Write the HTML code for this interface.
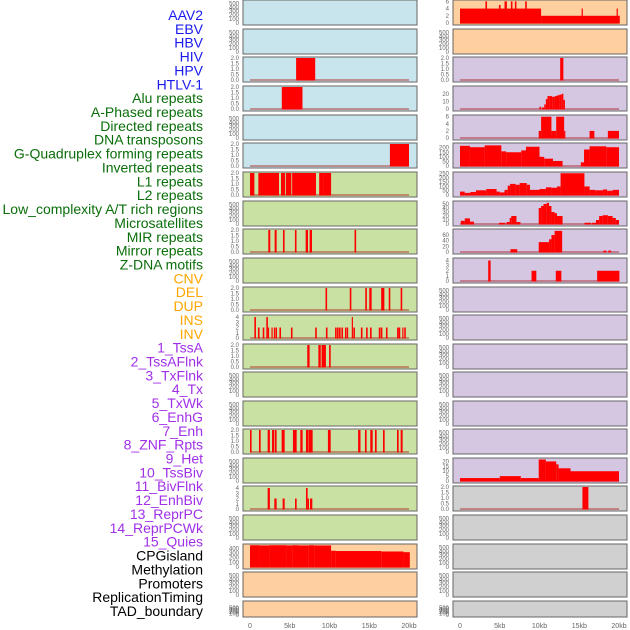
<!DOCTYPE html>
<html><head><meta charset="utf-8"><style>
html,body{margin:0;padding:0;background:#fff;}
svg{display:block;font-family:"Liberation Sans",sans-serif;}
</style></head><body>
<svg id="chart" width="630" height="630" viewBox="0 0 630 630" xmlns="http://www.w3.org/2000/svg"></svg>
<script>
// ---------- data ----------
const trackLabels = ["AAV2","EBV","HBV","HIV","HPV","HTLV-1","Alu repeats","A-Phased repeats","Directed repeats","DNA transposons","G-Quadruplex forming repeats","Inverted repeats","L1 repeats","L2 repeats","Low_complexity A/T rich regions","Microsatellites","MIR repeats","Mirror repeats","Z-DNA motifs","CNV","DEL","DUP","INS","INV","1_TssA","2_TssAFlnk","3_TxFlnk","4_Tx","5_TxWk","6_EnhG","7_Enh","8_ZNF_Rpts","9_Het","10_TssBiv","11_BivFlnk","12_EnhBiv","13_ReprPC","14_ReprPCWk","15_Quies","CPGisland","Methylation","Promoters","ReplicationTiming","TAD_boundary"];
const labelGroups = [0,0,0,0,0,0,1,1,1,1,1,1,1,1,1,1,1,1,1,2,2,2,2,2,3,3,3,3,3,3,3,3,3,3,3,3,3,3,3,4,4,4,4,4];
const xTickValues = [0,5,10,15,20];
const xTickLabels = ["0","5kb","10kb","15kb","20kb"];
const ticks500 = [0,100,200,300,400,500];
const ticks2 = [0,0.5,1,1.5,2];
const ticks2s = ["0.0","0.5","1.0","1.5","2.0"];

// segments: [startKb, endKb, value]
const r1Right = [[0,10.2,4],[10.2,20.1,2],[3.2,3.4,6],[4.9,5.1,5],[5.6,5.9,6],[6.4,6.6,6],[6.9,7.1,6],[8.2,8.4,6],[15.3,15.45,4],[19.7,19.85,4]];
const r3Left = [[5.8,8.2,2]];
const r3Right = [[12.6,13.0,2]];
const r4Left = [[4.0,6.6,2]];
const r4Right = [[10.0,10.2,3],[10.3,10.6,2],[10.6,10.8,6],[10.8,11.0,13],[11.0,11.3,17],[11.3,11.6,17],[11.6,11.9,16],[11.9,12.2,17],[12.2,12.5,18],[12.5,12.8,19],[12.8,13.0,20],[13.0,13.2,12]];
const r5Right = [[9.9,10.2,2],[10.2,11.5,6],[11.5,12.1,2],[12.1,13.1,6],[13.1,13.2,2],[16.3,16.9,2],[18.6,20.0,2]];
const r6Left = [[17.6,20.0,2]];
const r6Right = [[0,1.25,220],[1.25,3.1,205],[3.1,5.2,225],[5.2,5.8,160],[5.8,7.7,150],[7.7,8.3,170],[8.3,10,210],[10,10.6,100],[10.6,11.7,80],[11.7,12.9,55],[15.2,15.6,40],[15.6,16.3,180],[16.3,18.4,215],[18.4,20,205]];
const r7Left = [[0,0.55,2],[1.05,3.65,2],[3.9,4.4,2],[4.5,5.2,2],[5.3,8.3,2],[8.7,9.3,2],[9.3,10.2,2]];
const r7Right = [[0,0.6,40],[0.6,1.3,25],[1.3,2,35],[2,3.3,55],[3.3,4.6,70],[4.6,5,40],[5,5.6,30],[5.6,6.0,60],[6.0,6.3,110],[6.3,7,130],[7,7.5,120],[7.5,8.4,140],[8.4,8.8,120],[8.8,10,60],[10,10.8,70],[10.8,11.5,90],[11.5,12.2,85],[12.2,12.65,100],[12.65,15.65,255],[15.65,16.3,100],[16.3,17,60],[17,18,55],[18,18.5,65],[18.5,19.2,50],[19.2,20,60]];
const r8Right = [[0.1,0.6,8],[0.6,1.25,14],[1.25,1.75,6],[4.9,5.7,3],[5.85,6.25,5],[6.25,6.45,15],[6.45,7.1,20],[7.1,7.6,5],[9.9,10.2,40],[10.2,10.5,45],[10.5,10.9,50],[10.9,11.2,53],[11.2,11.5,45],[11.5,11.9,30],[11.9,12.2,27],[12.2,12.9,20],[15.65,16.5,3],[16.6,17.1,3],[17.1,17.5,10],[17.5,17.95,20],[17.95,18.6,22],[18.6,19.2,20],[19.2,19.6,15],[19.6,20,10]];
const r9Left = [[2.3,2.55,2],[3.1,3.35,2],[4.15,4.35,2],[5.65,5.85,2],[7.0,7.3,2],[7.5,7.8,2],[13.15,13.35,2]];
const r9Right = [[6.35,7.2,10],[9.9,11.2,35],[11.2,11.5,45],[11.5,11.9,60],[11.9,12.85,75],[18.05,18.4,5],[18.65,19,5]];
const r10Right = [[3.55,3.85,4],[9.0,9.6,2],[12.05,12.75,2],[17.25,20.05,2]];
const r11Left = [[9.5,9.7,2],[12.55,12.75,2],[14.5,14.7,2],[15.0,15.3,2],[16.5,16.9,2],[17.45,17.65,2],[18.95,19.15,2]];
const r12Left = [[0.55,0.75,4],[1.0,1.2,2],[1.6,1.8,2],[2.05,2.25,4],[2.25,2.35,2],[2.7,2.85,2],[3.0,3.15,2],[3.2,3.4,2],[3.7,3.9,2],[5.15,5.35,2],[8.2,8.4,2],[9.55,9.75,2],[10.7,10.9,2],[10.95,11.15,2],[11.2,11.4,2],[11.5,11.7,2],[11.95,12.1,2],[12.15,12.35,2],[12.8,12.95,4],[13.0,13.2,2],[13.95,14.15,2],[14.6,14.8,2],[15.1,15.3,2],[16.2,16.4,2],[16.45,16.65,2],[17.1,17.3,2],[18.5,18.7,2],[18.7,18.9,2],[19.15,19.3,2],[19.4,19.6,2]];
const r13Left = [[7.2,7.5,2],[8.6,8.9,2],[9.0,9.55,2],[9.95,10.15,2]];
const r16Left = [[0,0.2,2],[1.13,1.34,2],[2.22,2.5,2],[2.77,3.02,2],[3.1,3.35,2],[3.98,4.36,2],[5.4,5.87,2],[6.33,6.62,2],[7.04,7.34,2],[7.38,7.88,2],[9.8,10.15,2],[13.6,13.9,2],[14.46,14.67,2],[15.13,15.43,2],[15.72,15.93,2],[16.73,16.94,2],[18.49,18.7,2],[18.95,19.2,2]];
const r17Right = [[0,5,3],[5,7.65,5],[7.65,9.9,3],[9.9,10.8,22],[10.8,12.1,20],[12.1,12.4,17],[12.4,13.9,13],[13.9,20,10]];
const r18Left = [[2.22,2.5,4],[3.06,3.35,2],[4.1,4.36,2],[5.66,5.87,2],[7.04,7.25,4],[7.25,7.42,2],[7.55,7.84,2]];
const r18Right = [[15.4,16.15,2]];
const r20Left = [[0,1.2,470],[1.2,2.4,465],[2.4,4.6,470],[4.6,5.3,465],[5.3,6.1,470],[6.1,7.4,465],[7.4,8.1,470],[8.1,10.2,465],[10.2,10.8,350],[10.8,16.5,345],[16.5,19.3,335],[19.3,20.1,320]];

// ---------- layout ----------
const svg = document.getElementById('chart');
const NS = 'http://www.w3.org/2000/svg';
const C = {blue:'#c8e4ec', orange:'#fecf9f', purple:'#d5c6e2', green:'#c9e2a3', grey:'#d0d0d0'};
const labelColors = ['#1a1aee','#0a6e0a','#ffa500','#a030e8','#000000'];
const rowTops = [0,29,57,86,115,143,172,201,229,258,287,315,344,372,401,429,458,486,515,544,572,601];
const colX = [243,453];
const panelW = 174;
const kbPx = 7.95;

function mk(tag, attrs, parent){
  const el = document.createElementNS(NS, tag);
  for (const k in attrs) el.setAttribute(k, attrs[k]);
  (parent||svg).appendChild(el);
  return el;
}

const ticks30 = [0,10,20], ticks6 = [0,2,4,6], ticks200 = [0,50,100,150,200], ticks250=[0,50,100,150,200,250];
const ticks50=[0,10,20,30,40,50], ticks60=[0,20,40,60], ticks4=[0,1,2,3,4], ticks20=[0,5,10,15,20], ticks400=[0,100,200,300,400];

// panel specs: [row, col, color, dataArray, ticks, ymax, tickLabels]
const panels = [
 [0,0,'blue',null,ticks500,560],[0,1,'orange',r1Right,ticks6,6.1],
 [1,0,'blue',null,ticks500,560],[1,1,'orange',null,ticks500,560],
 [2,0,'blue',r3Left,ticks2,2,ticks2s],[2,1,'purple',r3Right,ticks2,2,ticks2s],
 [3,0,'blue',r4Left,ticks2,2,ticks2s],[3,1,'purple',r4Right,ticks30,29],
 [4,0,'blue',null,ticks500,560],[4,1,'purple',r5Right,ticks6,6.2],
 [5,0,'blue',r6Left,ticks2,2,ticks2s],[5,1,'purple',r6Right,ticks200,240],
 [6,0,'green',r7Left,ticks2,2,ticks2s],[6,1,'purple',r7Right,ticks250,258],
 [7,0,'green',null,ticks500,560],[7,1,'purple',r8Right,ticks50,55],
 [8,0,'green',r9Left,ticks2,2,ticks2s],[8,1,'purple',r9Right,ticks60,78],
 [9,0,'green',null,ticks500,560],[9,1,'purple',r10Right,ticks4,4.3],
 [10,0,'green',r11Left,ticks2,2,ticks2s],[10,1,'purple',null,ticks500,560],
 [11,0,'green',r12Left,ticks4,4.2],[11,1,'purple',null,ticks500,560],
 [12,0,'green',r13Left,ticks2,2,ticks2s],[12,1,'purple',null,ticks500,560],
 [13,0,'green',null,ticks500,560],[13,1,'purple',null,ticks500,560],
 [14,0,'green',null,ticks500,560],[14,1,'purple',null,ticks500,560],
 [15,0,'green',r16Left,ticks2,2,ticks2s],[15,1,'purple',null,ticks500,560],
 [16,0,'green',null,ticks500,560],[16,1,'purple',r17Right,ticks20,22.5],
 [17,0,'green',r18Left,ticks4,4.2],[17,1,'grey',r18Right,ticks2,2,ticks2s],
 [18,0,'green',null,ticks500,560],[18,1,'grey',null,ticks500,560],
 [19,0,'orange',r20Left,ticks400,475],[19,1,'grey',null,ticks500,560],
 [20,0,'orange',null,ticks500,560],[20,1,'grey',null,ticks500,560],
 [21,0,'orange',null,ticks500,900],[21,1,'grey',null,ticks500,900]
];

// labels
trackLabels.forEach((t,i)=>{
  const el = mk('text',{x:203,y:(15+i*13.86+5).toFixed(1),'text-anchor':'end','font-size':'14',fill:labelColors[labelGroups[i]]});
  el.textContent = t;
  
  
});

panels.forEach(p=>{
  const [row,col,color,data,ticks,ymax,tl] = p;
  const top = rowTops[row];
  const h = row===21 ? 16 : 25;
  const x0 = colX[col];
  const base = top + h - 2;
  const ys = v => base - v/ymax*(h-3);
  const xs = kb => x0 + 7 + kb*kbPx;
  const g = mk('g',{});
  
  
  mk('rect',{x:x0,y:top,width:panelW,height:h,fill:C[color],stroke:'#666','stroke-width':1},g);
  // y ticks
  ticks.forEach((tv,i)=>{
    const t = mk('text',{x:x0-4,y:(ys(tv)+2).toFixed(1),'text-anchor':'end','font-size':'6',fill:'#666'},g);
    t.textContent = tl ? tl[i] : String(tv);
    
    
  });
  if (data){
    mk('line',{x1:xs(0),x2:xs(20),y1:base,y2:base,stroke:'rgba(170,20,20,0.55)','stroke-width':1.5},g);
    data.forEach(d=>{
      const yTop = ys(d[2]);
      const r = mk('rect',{x:xs(d[0]).toFixed(2),y:yTop.toFixed(2),width:Math.max(1.2,(d[1]-d[0])*kbPx).toFixed(2),height:(base-yTop+0.5).toFixed(2),fill:'#ff0000'},g);
      
      
    });
  }
});

// x axes
colX.forEach((x0,ci)=>{
  xTickValues.forEach((v,i)=>{
    const t = mk('text',{x:(x0+7+v*kbPx).toFixed(1),y:628,'text-anchor':'middle','font-size':'7',fill:'#666'});
    t.textContent = xTickLabels[i];
    
    
  });
});
</script>
</body></html>
